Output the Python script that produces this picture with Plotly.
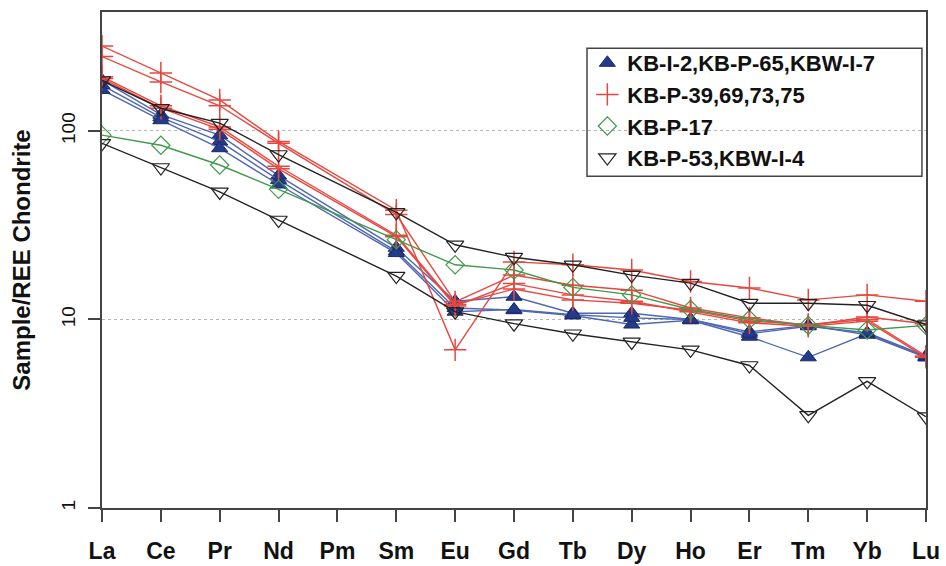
import plotly.graph_objects as go

# Chondrite-normalised REE patterns
elements = ["La", "Ce", "Pr", "Nd", "Pm", "Sm", "Eu", "Gd", "Tb", "Dy", "Ho", "Er", "Tm", "Yb", "Lu"]

# Group 1: KB-I-2, KB-P-65, KBW-I-7
kb_i_2   = [186, 122, 95, 58, None, 24.0, 12.5, 13.2, 10.8, 10.8, 10.0, 8.6, 9.3, 8.3, 6.3]
kb_p_65  = [175, 118, 88, 55, None, 23.0, 11.5, 11.2, 10.5, 9.4, 9.9, 8.1, 6.3, 8.4, 6.3]
kbw_i_7  = [165, 114, 81, 52, None, 22.5, 11.0, 11.3, 10.6, 10.2, 10.0, 8.4, 9.2, 8.5, 6.4]

# Group 2: KB-P-39, 69, 73, 75
kb_p_39  = [282, 203, 146, 88, None, 38.0, 6.9, 20.2, 19.5, 18.3, 15.9, 14.7, 12.7, 13.5, 12.5]
kb_p_69  = [248, 182, 136, 86, None, 36.0, 12.4, 17.2, 15.2, 14.3, 11.5, 10.2, 9.3, 10.3, 9.5]
kb_p_73  = [194, 136, 105, 65, None, 28.0, 12.0, 14.5, 12.7, 12.2, 11.2, 9.8, 9.4, 10.0, 6.4]
kb_p_75  = [190, 132, 102, 63, None, 27.5, 11.8, 15.5, 13.5, 12.5, 11.0, 9.6, 9.2, 9.8, 6.3]

# Group 3: KB-P-17
kb_p_17  = [95, 84, 66, 49, None, 26.5, 19.5, 18.3, 14.8, 13.5, 11.3, 10.0, 9.3, 8.8, 9.3]

# Group 4: KB-P-53, KBW-I-4
kb_p_53  = [185, 132, 110, 75, None, 37.0, 24.9, 21.4, 19.5, 17.2, 15.6, 12.2, 12.2, 11.9, 9.4]
kbw_i_4  = [86, 64, 47.5, 33.7, None, 17.0, 11.0, 9.5, 8.4, 7.6, 6.9, 5.7, 3.1, 4.7, 3.05]

y_ticks = [1, 10, 100]

groups = [
    dict(name="KB-I-2,KB-P-65,KBW-I-7", samples=[kb_i_2, kb_p_65, kbw_i_7],
         line="#5068b2",
         marker=dict(symbol="triangle-up", size=14, color="#243b8c",
                     line=dict(color="#1a2a66", width=1))),
    dict(name="KB-P-39,69,73,75", samples=[kb_p_39, kb_p_69, kb_p_73, kb_p_75],
         line="#e8473f",
         marker=dict(symbol="cross-thin", size=16, color="#e8473f",
                     line=dict(color="#e8473f", width=1.5))),
    dict(name="KB-P-17", samples=[kb_p_17],
         line="#3f9a4a",
         marker=dict(symbol="diamond-open", size=14, color="#3f9a4a",
                     line=dict(color="#3f9a4a", width=1.2))),
    dict(name="KB-P-53,KBW-I-4", samples=[kb_p_53, kbw_i_4],
         line="#222222",
         marker=dict(symbol="triangle-down-open", size=15, color="#222222",
                     line=dict(color="#222222", width=1.2))),
]

fig = go.Figure()

for g in groups:
    for s in g["samples"]:
        fig.add_trace(go.Scatter(
            x=elements, y=s, mode="lines+markers", connectgaps=True,
            line=dict(color=g["line"], width=1.4),
            marker=g["marker"], showlegend=False, hoverinfo="skip",
        ))

# marker-only legend entries
for g in groups:
    fig.add_trace(go.Scatter(
        x=[None], y=[None], mode="markers", name=g["name"],
        marker=g["marker"],
    ))

# legend frame (wider than the text, as in an R-style legend box)
fig.add_shape(
    type="rect", xref="paper", yref="paper",
    x0=0.5886, x1=0.9951, y0=0.669, y1=0.927,
    line=dict(color="#444444", width=1.5), fillcolor="white", layer="below",
)

fig.update_layout(
    width=946, height=566,
    margin=dict(l=102, r=20, t=12, b=58),
    paper_bgcolor="white", plot_bgcolor="white",
    font=dict(family="Liberation Sans, Arial, sans-serif", color="#111111"),
    legend=dict(
        x=0.589, y=0.9395, xanchor="left", yanchor="top",
        borderwidth=0, bgcolor="rgba(0,0,0,0)",
        font=dict(size=22, weight="bold", color="#111111"),
        itemwidth=30,
    ),
)

fig.update_xaxes(
    type="category", categoryorder="array", categoryarray=elements,
    range=[0, len(elements) - 1],
    showline=True, linecolor="#444444", linewidth=1.5, mirror=True,
    ticks="outside", ticklen=12, tickwidth=1.5, tickcolor="#444444",
    tickfont=dict(size=23, weight="bold", color="#111111"),
    ticklabelstandoff=10,
    showgrid=False, zeroline=False, automargin=False,
)

fig.update_yaxes(
    type="log", range=[0, 2.631],
    tickvals=y_ticks, ticktext=[str(v) for v in y_ticks], tickangle=-90,
    showline=True, linecolor="#444444", linewidth=1.5, mirror=True,
    ticks="outside", ticklen=12, tickwidth=1.5, tickcolor="#444444",
    tickfont=dict(size=19, color="#111111"),
    ticklabelstandoff=6,
    showgrid=True, gridcolor="#b5b5b5", griddash="dot", gridwidth=1.2,
    zeroline=False, automargin=False,
    title=dict(text="Sample/REE Chondrite", font=dict(size=24, weight="bold", color="#111111"),
               standoff=20),
)

fig.write_html("out.html")
